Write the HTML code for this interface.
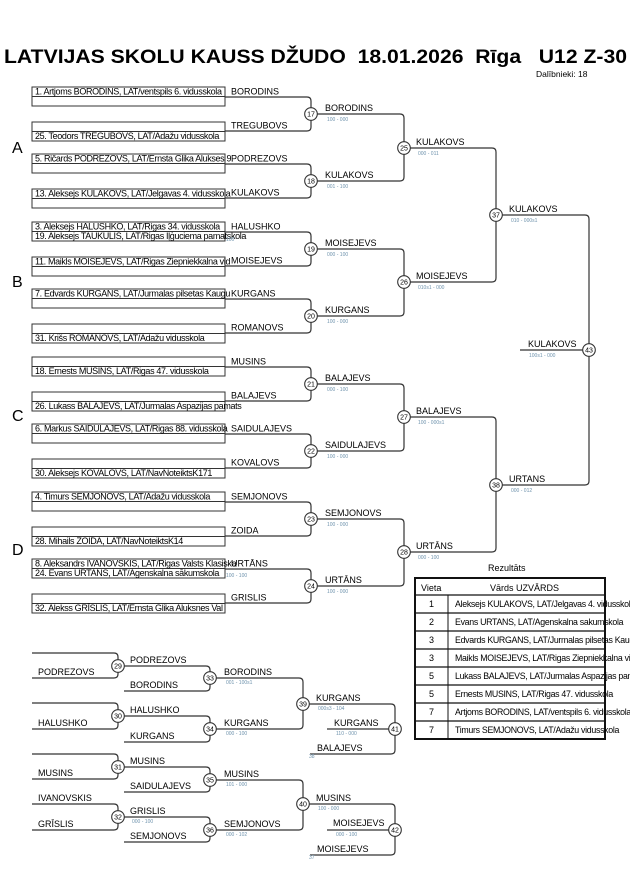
<!DOCTYPE html>
<html><head><meta charset="utf-8">
<style>
html,body{margin:0;padding:0;background:#fff;}
svg{display:block;font-family:"Liberation Sans",sans-serif;}
.n{font-size:9px;fill:#000;}
.b{font-size:9px;fill:#000;letter-spacing:-0.35px;}
.s{font-size:5px;fill:#6f93ad;}
.c{font-size:7px;fill:#000;text-anchor:middle;}
.t{font-size:8.8px;fill:#000;letter-spacing:-0.3px;}
</style></head><body>
<svg id="g" width="630" height="891" viewBox="0 0 630 891" xmlns="http://www.w3.org/2000/svg">
<text x="4" y="63" font-size="19" font-weight="bold" style="white-space:pre" xml:space="preserve" textLength="623" lengthAdjust="spacingAndGlyphs">LATVIJAS SKOLU KAUSS DŽUDO  18.01.2026  Rīga   U12 Z-30</text>
<text x="536" y="77" font-size="8.5">Dalībnieki: 18</text>
<text x="12" y="153" font-size="16">A</text>
<text x="12" y="287" font-size="16">B</text>
<text x="12" y="421" font-size="16">C</text>
<text x="12" y="555" font-size="16">D</text>
</svg>
<script>
var s='',L='stroke="#333" stroke-width="1.2" fill="none"';
function T(x,y,t,c){s+='<text class="'+c+'" x="'+x+'" y="'+y+'">'+t+'</text>';}
function C(x,y,n){s+='<circle cx="'+x+'" cy="'+y+'" r="6.3" fill="#fff" stroke="#333" stroke-width="1.1"/>';T(x,y+2.5,n,'c');}
function K(x1,y,x2,yc){var d=yc>y?1:-1;s+='<path '+L+' d="M'+x1+','+y+' H'+(x2-4)+' q4,0 4,'+(4*d)+' V'+(yc-6*d)+'"/>';}
function box(x,y){s+='<rect x="32" y="'+y+'" width="193" height="19" fill="none" stroke="#333" stroke-width="1"/><line x1="32" x2="225" y1="'+(y+9.5)+'" y2="'+(y+9.5)+'" stroke="#333" stroke-width="1"/>';}
var R1=[
 ['1. Artjoms BORODINS, LAT/ventspils 6. vidusskola','', '','25. Teodors TREGUBOVS, LAT/Adažu vidusskola','BORODINS','TREGUBOVS',17,'BORODINS','100 - 000'],
 ['5. Ričards PODREZOVS, LAT/Ernsta Glika Alukses 9.','', '13. Aleksejs KULAKOVS, LAT/Jelgavas 4. vidusskola','','PODREZOVS','KULAKOVS',18,'KULAKOVS','001 - 100'],
 ['3. Aleksejs HALUSHKO, LAT/Rigas 34. vidusskola','19. Aleksejs TAUKULIS, LAT/Rigas Iļģuciema pamatskola','11. Maikls MOISEJEVS, LAT/Rigas Ziepniekkalna vid','','HALUSHKO','MOISEJEVS',19,'MOISEJEVS','000 - 100'],
 ['7. Edvards KURGANS, LAT/Jurmalas pilsetas Kaugu','', '','31. Krišs ROMANOVS, LAT/Adažu vidusskola','KURGANS','ROMANOVS',20,'KURGANS','100 - 000'],
 ['','18. Ernests MUSINS, LAT/Rigas 47. vidusskola','','26. Lukass BALAJEVS, LAT/Jurmalas Aspazijas pamats','MUSINS','BALAJEVS',21,'BALAJEVS','000 - 100'],
 ['6. Markus SAIDULAJEVS, LAT/Rigas 88. vidusskola','', '','30. Aleksejs KOVALOVS, LAT/NavNoteiktsK171','SAIDULAJEVS','KOVALOVS',22,'SAIDULAJEVS','100 - 000'],
 ['4. Timurs SEMJONOVS, LAT/Adažu vidusskola','', '','28. Mihails ZOIDA, LAT/NavNoteiktsK14','SEMJONOVS','ZOIDA',23,'SEMJONOVS','100 - 000'],
 ['8. Aleksandrs IVANOVSKIS, LAT/Rigas Valsts Klasiska','24. Evans URTANS, LAT/Agenskalna sākumskola','','32. Alekss GRĪSLIS, LAT/Ernsta Glika Aluksnes Val','URTĀNS','GRISLIS',24,'URTĀNS','100 - 000']
];
for(var i=0;i<8;i++){
 var c=Math.round(114+67.43*i),r=R1[i];
 box(32,c-27);box(32,c+8);
 if(r[0])T(35,c-19.5,r[0],'b'); if(r[1])T(35,c-10,r[1],'b');
 if(r[2])T(35,c+15.5,r[2],'b'); if(r[3])T(35,c+25,r[3],'b');
 T(231,c-19.5,r[4],'n'); T(231,c+14.5,r[5],'n');
 K(225,c-17,311,c);K(225,c+17,311,c);C(311,c,r[6]);
 T(325,c-3,r[7],'n');T(327,c+7,r[8],'s');
 R1[i].c=c;
}
s+='<text class="s" x="226" y="241" fill="#c96">100</text>';
s+='<text class="s" x="226" y="577">100 - 100</text>';
var r2=[[25,148,'KULAKOVS','000 - 011'],[26,282,'MOISEJEVS','010s1 - 000'],[27,417,'BALAJEVS','100 - 000s1'],[28,552,'URTĀNS','000 - 100']];
for(i=0;i<4;i++){K(317,R1[2*i].c,404,r2[i][1]);K(317,R1[2*i+1].c,404,r2[i][1]);C(404,r2[i][1],r2[i][0]);T(416,r2[i][1]-3,r2[i][2],'n');T(418,r2[i][1]+7,r2[i][3],'s');}
K(410,148,496,215);K(410,282,496,215);C(496,215,37);T(509,212,'KULAKOVS','n');T(511,222,'010 - 000s1','s');
K(410,417,496,485);K(410,552,496,485);C(496,485,38);T(509,482,'URTANS','n');T(511,492,'000 - 012','s');
K(502,215,589,350);K(502,485,589,350);
s+='<line x1="520" x2="583" y1="350" y2="350" '+L+'/>';C(589,350,43);T(528,347,'KULAKOVS','n');T(529,357,'100s1 - 000','s');
function rp(cx,cy,ty,by,tl,bl,x1,n){K(x1,ty,cx,cy);K(x1,by,cx,cy);C(cx,cy,n);if(tl)T(x1+6,ty-3,tl,'n');if(bl)T(x1+6,by-3,bl,'n');}
rp(118,666,653,678,'','PODREZOVS',32,29);
rp(118,716,703,729,'','HALUSHKO',32,30);
rp(118,767,754,779,'','MUSINS',32,31);
rp(118,817,804,830,'IVANOVSKIS','GRĪSLIS',32,32);
rp(210,678,666,691,'','BORODINS',124,33);T(130,663,'PODREZOVS','n');
rp(210,729,716,742,'','KURGANS',124,34);T(130,713,'HALUSHKO','n');
rp(210,780,767,792,'','SAIDULAJEVS',124,35);T(130,764,'MUSINS','n');
rp(210,830,817,842,'','SEMJONOVS',124,36);T(130,814,'GRISLIS','n');T(132,823,'000 - 100','s');
rp(303,704,678,729,'','',216,39);
T(224,675,'BORODINS','n');T(226,684,'001 - 100s1','s');
T(224,726,'KURGANS','n');T(226,735,'000 - 100','s');
rp(303,804,780,830,'','',216,40);
T(224,777,'MUSINS','n');T(226,786,'101 - 000','s');
T(224,827,'SEMJONOVS','n');T(226,836,'000 - 102','s');
K(309,704,395,729);K(310,754,395,729);s+='<line x1="327" x2="389" y1="729" y2="729" '+L+'/>';C(395,729,41);
T(316,701,'KURGANS','n');T(318,710,'000s3 - 104','s');T(334,726,'KURGANS','n');T(336,735,'110 - 000','s');T(317,751,'BALAJEVS','n');T(309,758,'38','s');
K(309,804,395,830);K(310,855,395,830);s+='<line x1="327" x2="389" y1="830" y2="830" '+L+'/>';C(395,830,42);
T(316,801,'MUSINS','n');T(318,810,'100 - 000','s');T(333,826,'MOISEJEVS','n');T(336,836,'000 - 100','s');T(317,852,'MOISEJEVS','n');T(309,859,'37','s');
T(488,571,'Rezultāts','n');
var rows=[['1','Aleksejs KULAKOVS, LAT/Jelgavas 4. vidusskola'],['2','Evans URTANS, LAT/Agenskalna sakumskola'],['3','Edvards KURGANS, LAT/Jurmalas pilsetas Kaugu'],['3','Maikls MOISEJEVS, LAT/Rigas Ziepniekkalna vid'],['5','Lukass BALAJEVS, LAT/Jurmalas Aspazijas pamats'],['5','Ernests MUSINS, LAT/Rigas 47. vidusskola'],['7','Artjoms BORODINS, LAT/ventspils 6. vidusskola'],['7','Timurs SEMJONOVS, LAT/Adažu vidusskola']];
s+='<rect x="415" y="578" width="190" height="161" fill="#fff" stroke="#111" stroke-width="2"/>';
s+='<line x1="448" x2="448" y1="595" y2="739" stroke="#111"/>';
T(421,591,'Vieta','n');T(490,591,'Vārds UZVĀRDS','n');
for(i=0;i<8;i++){var y=595+i*18;s+='<line x1="415" x2="605" y1="'+y+'" y2="'+y+'" stroke="#111" stroke-width="1.2"/>';T(429,y+12,rows[i][0],'n');T(455,y+12,rows[i][1],'t');}
document.getElementById('g').insertAdjacentHTML('beforeend',s);
</script>
</body></html>
